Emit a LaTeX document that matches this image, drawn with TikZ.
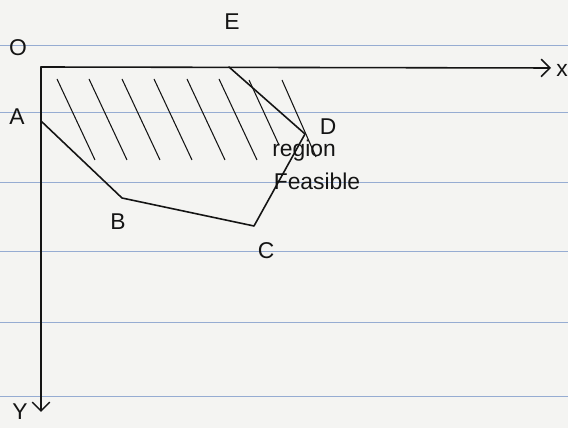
\documentclass[tikz,border=0pt]{standalone}
\usepackage{fontspec}
\setmainfont{Liberation Sans}
\usetikzlibrary{arrows.meta, positioning}
\definecolor{paperC}{RGB}{244, 244, 242}
\definecolor{ruleC} {RGB}{150, 172, 210}
\definecolor{inkC}  {RGB}{ 20,  20,  20}

\begin{document}
\begin{tikzpicture}[x=0.02cm, y=-0.02cm,
  lbl/.style={font=\fontsize{13}{15}\selectfont, text=inkC, inner sep=0pt},
  ink/.style={inkC, line width=0.9pt, line join=round, line cap=round},
  hatch/.style={inkC, line width=0.6pt}]

% ============================================================
% Paper background and ruled lines
% ============================================================
\fill[paperC] (0,0) rectangle (568,428);
\useasboundingbox (0,0) rectangle (568,428);
\foreach \y in {45, 112, 182, 251, 322, 396}{
  \draw[ruleC, line width=0.5pt] (0,\y) -- (568,\y);
}

% ============================================================
% Axes
% ============================================================
\coordinate (O) at (41,67);
\coordinate (xend) at (551,68);
\coordinate (yend) at (41,412);
\draw[ink, -{Straight Barb[length=5pt]}] (O) -- (xend);
\draw[ink, -{Straight Barb[length=5pt]}] (O) -- (yend);

\node[lbl] (xlbl) at (562,70) {x};
\node[lbl] (ylbl) at (20,412) {Y};
\node[lbl] (olbl) at (18,48) {O};

% ============================================================
% Feasible region boundary A-B-C-D-E
% ============================================================
\coordinate (A) at (41,121);
\coordinate (B) at (122,198);
\coordinate (C) at (254,226);
\coordinate (D) at (305,134);
\coordinate (E) at (229,67);
\draw[ink] (A) -- (B) -- (C) -- (D) -- (E);

% Hatching above the boundary
\foreach \x in {57, 89, 122, 154, 187, 219}{
  \draw[hatch] (\x,79) -- ({\x+38},160);
}
\draw[hatch] (249,80) -- (279,145);
\draw[hatch] (282,80) -- (316,157);

% Labels
\node[lbl] (Albl) at (17,117) {A};
\node[lbl] (Blbl) at (118,222) {B};
\node[lbl] (Clbl) at (266,251) {C};
\node[lbl] (Dlbl) at (328,127) {D};
\node[lbl] (Elbl) at (232,22) {E};
\node[lbl] (region) at (304,151) {region};
\node[lbl] (feas) at (317,181) {Feasible};

\end{tikzpicture}
\end{document}
